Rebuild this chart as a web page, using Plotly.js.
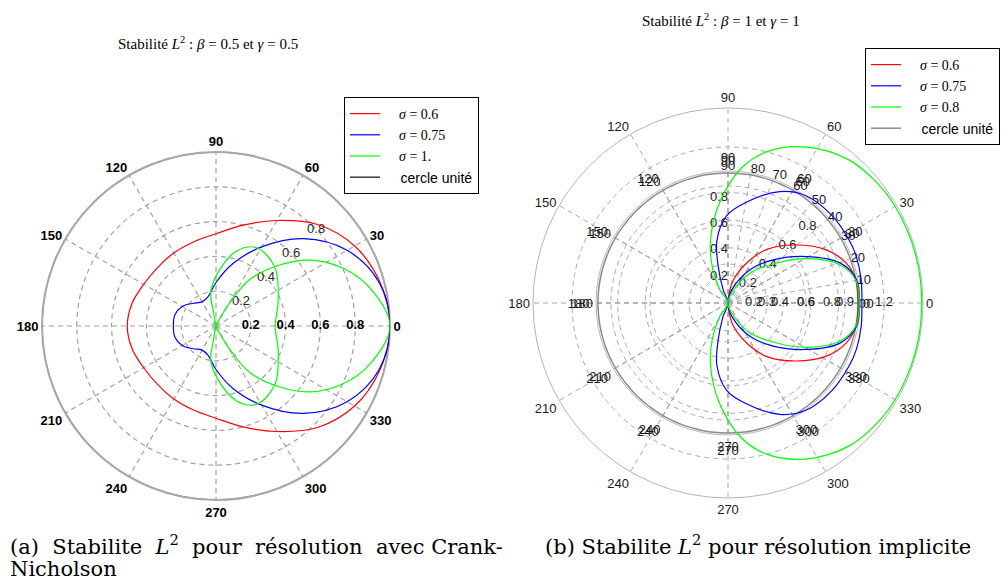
<!DOCTYPE html>
<html><head><meta charset="utf-8">
<script src="https://cdn.plot.ly/plotly-3.0.1.min.js"></script>
<style>html,body{margin:0;padding:0;background:#fff}#chart{width:1003px;height:581px}</style>
</head><body><div id="chart"></div>
<script>
// ---------- Panel (a): Crank-Nicholson, beta = 0.5, gamma = 0.5 ----------
const aRedTheta = [0, 15, 30, 45, 60, 75, 90, 105, 120, 135, 150, 165, 180, 195, 210, 225, 240, 255, 270, 285, 300, 315, 330, 345, 360];
const aRedR     = [1.0, 0.975, 0.92, 0.825, 0.70, 0.60, 0.53, 0.50, 0.485, 0.475, 0.48, 0.50, 0.51, 0.50, 0.48, 0.475, 0.485, 0.50, 0.53, 0.60, 0.70, 0.825, 0.92, 0.975, 1.0];
const aBlueTheta = [0, 15, 30, 45, 60, 75, 90, 105, 120, 135, 150, 165, 180, 195, 210, 225, 240, 255, 270, 285, 300, 315, 330, 345, 360];
const aBlueR     = [1.0, 0.97, 0.87, 0.71, 0.525, 0.37, 0.25, 0.175, 0.16, 0.185, 0.225, 0.245, 0.245, 0.245, 0.225, 0.185, 0.16, 0.175, 0.25, 0.37, 0.525, 0.71, 0.87, 0.97, 1.0];
const aGreenTheta = [0, 14, 24.6, 35, 44.7, 54, 58.5, 64, 66, -100, -99, -89, -74.6, -62.5, -44.7, -21.9, 0, 21.9, 44.7, 62.5, 74.6, 89, 99, 100, -66, -64, -58.5, -54, -44.7, -35, -24.6, -14, 0];
const aGreenR     = [1.0, 0.91, 0.80, 0.66, 0.49, 0.33, 0.19, 0.05, 0, 0.088, 0.194, 0.297, 0.447, 0.507, 0.477, 0.385, 0.34, 0.385, 0.477, 0.507, 0.447, 0.297, 0.194, 0.088, 0, 0.05, 0.19, 0.33, 0.49, 0.66, 0.80, 0.91, 1.0];
const aNames = ['<i>σ</i> = 0.6', '<i>σ</i> = 0.75', '<i>σ</i> = 1.'];
const aRadialVals = [0.2, 0.4, 0.6, 0.8];
const aRadialText = ['0.2', '0.4', '0.6', '0.8'];

// ---------- Panel (b): implicite, beta = 1, gamma = 1 ----------
const bRedTheta = [-88, -84, -77, -65, -54, -40.3, -28.4, -18.6, -10, 0, 10, 18.6, 28.4, 40.3, 54, 65, 77, 84, 88];
const bRedR     = [0, 0.06, 0.18, 0.34, 0.51, 0.69, 0.86, 0.96, 1.0, 1.0, 1.0, 0.96, 0.86, 0.69, 0.51, 0.34, 0.18, 0.06, 0];
const bBlueTheta = [-80, -74, -56.5, -43.7, -30.7, -19.7, -10.3, 0, 10.3, 19.7, 30.7, 43.7, 56.5, 74, 80];
const bBlueR     = [0, 0.105, 0.31, 0.48, 0.70, 0.915, 1.005, 1.01, 1.005, 0.915, 0.70, 0.48, 0.31, 0.105, 0];
const bGreenTheta = [-76, -70, -53.7, -39.4, -29.4, -18.9, -10, 0, 10, 18.9, 29.4, 39.4, 53.7, 70, 76];
const bGreenR     = [0, 0.08, 0.285, 0.485, 0.695, 0.91, 1.0, 1.01, 1.0, 0.91, 0.695, 0.485, 0.285, 0.08, 0];
const bBlue2Theta = [-113, -110, -105, -100, -91, -81, -65, -54, -40, -27, -20, -10, 0, 10, 20, 27, 40, 54, 65, 81, 91, 100, 105, 110, 113];
const bBlue2R     = [0, 0.11, 0.29, 0.49, 0.67, 0.775, 0.945, 1.02, 1.045, 1.05, 1.05, 1.04, 1.03, 1.04, 1.05, 1.05, 1.045, 1.02, 0.945, 0.775, 0.67, 0.49, 0.29, 0.11, 0];
const bGreen2Theta = [-128, -122, -114, -106, -95, -84, -75, -63, -50, -40, -30, -15, 0, 15, 30, 40, 50, 63, 75, 84, 95, 106, 114, 122, 128];
const bGreen2R     = [0, 0.115, 0.29, 0.49, 0.77, 1.05, 1.21, 1.345, 1.44, 1.47, 1.485, 1.49, 1.49, 1.49, 1.485, 1.47, 1.44, 1.345, 1.21, 1.05, 0.77, 0.49, 0.29, 0.115, 0];
const bNames = ['<i>σ</i> = 0.6', '<i>σ</i> = 0.75', '<i>σ</i> = 0.8'];
const bRowAVals = [0.2, 0.4, 0.6, 0.8];
const bRowAText = ['0.2', '0.4', '0.6', '0.8'];
const bRowBVals = [0.3, 0.6, 0.9, 1.2];
const bRowBText = ['0.3', '0.6', '0.9', '1.2'];

// unit circle
const unitTheta = []; const unitR = [];
for (let t = 0; t <= 360; t += 3) { unitTheta.push(t); unitR.push(1); }

const ang30 = [0, 30, 60, 90, 120, 150, 180, 210, 240, 270, 300, 330];
const ang30Text = ang30.map(String);
const ang10 = [-90, -80, -70, -60, -50, -40, -30, -20, -10, 0, 10, 20, 30, 40, 50, 60, 70, 80, 90];
const ang10Text = ang10.map(v => v < 0 ? '- ' + (-v) : String(v));

const W = 1003, H = 581;
function dom(cx, cy, R) { return {x: [(cx - R) / W, (cx + R) / W], y: [(H - cy - R) / H, (H - cy + R) / H]}; }
const sans = 'Liberation Sans, Arial, sans-serif';
const serif = 'Liberation Serif, Times New Roman, serif';
const capFont = 'DejaVu Serif, serif';
const GD = '5px,4px';
const S = '\u00a0';
const pad = S + S + S + S;
const legName = (n) => pad + n.replace(/ /g, S);

function hidden(range, d) {
  return {domain: d, bgcolor: 'rgba(0,0,0,0)',
    angularaxis: {visible: false, rotation: 0, direction: 'counterclockwise'},
    radialaxis: {visible: false, range: range}};
}

const line = (subplot, r, theta, color, width, name, leg, rank, show) => ({
  type: 'scatterpolar', subplot: subplot, r: r, theta: theta, mode: 'lines',
  line: {color: color, width: width, shape: 'spline', smoothing: 1},
  name: name, legend: leg, legendrank: rank, showlegend: show, hoverinfo: 'skip'
});
const txt = (subplot, r, theta, text, font, pos) => ({
  type: 'scatterpolar', subplot: subplot, r: r, theta: theta, mode: 'text', text: text,
  textposition: pos || 'middle center', textfont: font, showlegend: false, hoverinfo: 'skip', cliponaxis: false
});

const unitName = '<span style="font-family:Liberation Sans;font-size:14px">' + pad + 'cercle' + S + 'unité</span>';
const lab = {family: sans, size: 13, color: '#222'};
const data = [
  // panel (a)
  line('polar', unitR, unitTheta, '#3c3c3c', 1.5, unitName, 'legend', 4, true),
  txt('polar', aRadialVals, aRadialVals.map(() => 44), aRadialText, {family: sans, size: 13, color: '#262626'}),
  txt('polar', aRadialVals, aRadialVals.map(() => 0), aRadialText, {family: sans, size: 13, color: '#000', weight: 'bold'}),
  line('polar7', aRedR, aRedTheta, '#ff0000', 1.2, legName(aNames[0]), 'legend', 1, true),
  line('polar7', aBlueR, aBlueTheta, '#0000ff', 1.2, legName(aNames[1]), 'legend', 2, true),
  line('polar7', aGreenR, aGreenTheta, '#00ff00', 1.2, legName(aNames[2]), 'legend', 3, true),
  // panel (b)
  txt('polar2', bRowBVals, bRowBVals.map(() => 0), bRowBText, lab),
  txt('polar5', bRowAVals, bRowAVals.map(() => 0), bRowAText, lab),
  txt('polar3', aRadialVals, aRadialVals.map(() => 44), aRadialText, lab),
  txt('polar4', aRadialVals, aRadialVals.map(() => 90), aRadialText, lab, 'middle left'),
  line('polar6', unitR, unitTheta, '#8a8a8a', 1.5, unitName, 'legend2', 4, true),
  line('polar6', bRedR, bRedTheta, '#ff0000', 1.2, legName(bNames[0]), 'legend2', 1, true),
  line('polar6', bBlueR, bBlueTheta, '#0000ff', 1.2, legName(bNames[1]), 'legend2', 2, true),
  line('polar6', bGreenR, bGreenTheta, '#00ff00', 1.2, legName(bNames[2]), 'legend2', 3, true),
  line('polar6', bBlue2R, bBlue2Theta, '#0000ff', 1.2, bNames[1], 'legend2', 5, false),
  line('polar6', bGreen2R, bGreen2Theta, '#00ff00', 1.2, bNames[2], 'legend2', 6, false)
];

const gridAng = (opts) => Object.assign({
  rotation: 0, direction: 'counterclockwise', tickmode: 'array', tickvals: ang30, ticktext: ang30Text,
  ticks: '', showgrid: true, gridcolor: '#a9a9a9', griddash: GD, gridwidth: 1,
  showline: true, linecolor: '#a9a9a9', linewidth: 1,
  tickfont: {family: sans, size: 13, color: '#1a1a1a'}
}, opts);
const gridRad = (opts) => Object.assign({
  showline: false, ticks: '', showticklabels: false, showgrid: true,
  gridcolor: '#a9a9a9', griddash: GD, gridwidth: 1, tickmode: 'array'
}, opts);

const ann = (x, y, text, font, xanchor) => ({xref: 'paper', yref: 'paper', x: x / W, y: 1 - y / H,
  xanchor: xanchor || 'center', yanchor: 'middle', showarrow: false, align: 'left', text: text, font: font});
const titleFont = {family: serif, size: 15, color: '#000'};
const capF = {family: capFont, size: 21, color: '#000'};

const layout = {
  width: W, height: H, margin: {l: 0, r: 0, t: 0, b: 0},
  paper_bgcolor: '#fff', plot_bgcolor: '#fff', showlegend: true,
  polar: {domain: dom(216, 326, 174), bgcolor: '#fff',
    angularaxis: gridAng({linewidth: 2, linecolor: '#a8a8a8', layer: 'above traces', gridcolor: '#a0a0a0', gridwidth: 1.2,
      tickfont: {family: sans, size: 13, color: '#000', weight: 'bold'}}),
    radialaxis: gridRad({range: [0, 1], tickvals: [0.2, 0.4, 0.6, 0.8], gridcolor: '#a0a0a0', gridwidth: 1.2})},
  polar2: {domain: dom(728, 303, 195), bgcolor: '#fff',
    angularaxis: gridAng({linecolor: '#b4b4b4'}),
    radialaxis: gridRad({range: [0, 1.5], tickvals: [0.3, 0.6, 0.9, 1.2]})},
  polar3: {domain: dom(728, 303, 138), bgcolor: 'rgba(0,0,0,0)',
    angularaxis: gridAng({showline: false}),
    radialaxis: gridRad({range: [0, 1], tickvals: [0.2, 0.4, 0.6, 0.8]})},
  polar4: {domain: dom(728, 303, 132), bgcolor: 'rgba(0,0,0,0)',
    angularaxis: gridAng({linecolor: '#b8b8b8'}),
    radialaxis: gridRad({range: [0, 1], tickvals: [0.2, 0.4, 0.6, 0.8], showgrid: false})},
  polar5: {domain: dom(728, 303, 130), bgcolor: 'rgba(0,0,0,0)',
    angularaxis: gridAng({tickvals: ang10, ticktext: ang10Text, showline: false}),
    radialaxis: gridRad({range: [0, 1], showgrid: false})},
  polar6: hidden([0, 1.5], dom(728, 303, 195)),
  polar7: hidden([0, 1], dom(216, 326, 174)),
  legend: {x: 344 / W, y: 1 - 97 / H, xanchor: 'left', yanchor: 'top', bgcolor: '#fff',
    bordercolor: '#000', borderwidth: 1, font: {family: serif, size: 14, color: '#000'}, tracegroupgap: 0},
  legend2: {x: 865 / W, y: 1 - 48 / H, xanchor: 'left', yanchor: 'top', bgcolor: '#fff',
    bordercolor: '#000', borderwidth: 1, font: {family: serif, size: 14, color: '#000'}, tracegroupgap: 0},
  annotations: [
    ann(208, 43, 'Stabilité <i>L</i><sup>2</sup>' + S + ':' + S + '<i>β</i>' + S + '=' + S + '0.5' + S + 'et' + S + '<i>γ</i>' + S + '=' + S + '0.5', titleFont),
    ann(721, 20, 'Stabilité <i>L</i><sup>2</sup>' + S + ':' + S + '<i>β</i>' + S + '=' + S + '1' + S + 'et' + S + '<i>γ</i>' + S + '=' + S + '1', titleFont),
    ann(8, 545, '(a)' + S + S + 'Stabilite' + S + S + '<i>L</i><sup>2</sup>' + S + S + 'pour' + S + S + 'résolution' + S + S + 'avec' + S + 'Crank-', capF, 'left'),
    ann(8, 569, 'Nicholson', capF, 'left'),
    ann(543, 545, '(b) Stabilite <i>L</i><sup>2</sup> pour résolution implicite', capF, 'left')
  ]
};

Plotly.newPlot('chart', data, layout, {displayModeBar: false, staticPlot: true});
</script></body></html>
